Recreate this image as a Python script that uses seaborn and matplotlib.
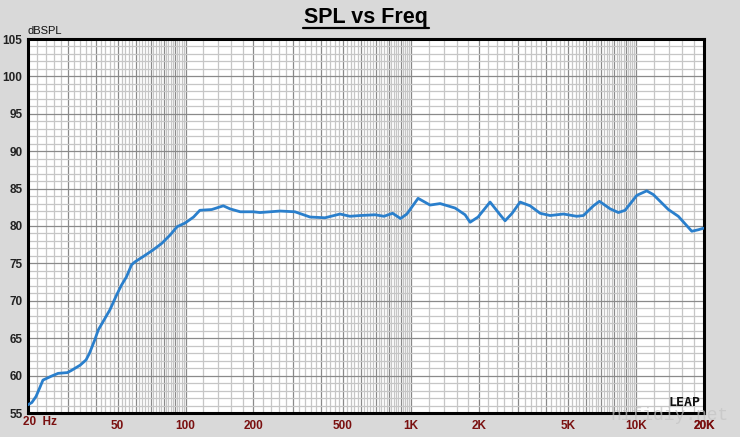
import numpy as np
import pandas as pd
import matplotlib
matplotlib.use("Agg")
import matplotlib.pyplot as plt
import matplotlib.ticker as mticker
from matplotlib.lines import Line2D
import seaborn as sns

freq = [20, 20.8, 21.7, 22.5, 23.3, 25.3, 27.2, 29.9, 31.2, 34.1, 36.2, 37.5, 39.6, 41.0,
        46.2, 49.5, 52.0, 54.7, 57.6, 59.6, 64.8, 71.8, 78.6, 85.5, 91.7, 99.6, 108.6,
        115.8, 130.7, 147.2, 157.3, 175, 200, 214, 263, 306, 357, 416, 485, 537, 595,
        694, 760, 830, 900, 960, 1077, 1217, 1349, 1572, 1741, 1832, 1987, 2247, 2490,
        2620, 2815, 3054, 3383, 3748, 4150, 4755, 5448, 5834, 6460, 6870, 7660, 8340,
        8930, 10070, 11140, 11920, 13900, 15380, 17650, 18880, 19880]
spl = [56.1, 56.4, 57.2, 58.3, 59.4, 59.9, 60.3, 60.4, 60.7, 61.4, 62.1, 63.0, 64.8, 66.1,
       68.8, 70.8, 72.1, 73.2, 74.8, 75.2, 75.9, 76.8, 77.7, 78.8, 79.9, 80.4, 81.2,
       82.1, 82.2, 82.7, 82.3, 81.9, 81.9, 81.8, 82.0, 81.9, 81.2, 81.1, 81.6, 81.3, 81.4,
       81.5, 81.3, 81.7, 81.0, 81.6, 83.7, 82.8, 83.0, 82.4, 81.5, 80.5, 81.2, 83.2, 81.5,
       80.7, 81.7, 83.2, 82.7, 81.7, 81.4, 81.6, 81.3, 81.4, 82.7, 83.3, 82.3, 81.8,
       82.1, 84.1, 84.7, 84.2, 82.2, 81.3, 79.3, 79.5, 79.7]

x_tick_vals = [50, 100, 200, 500, 1000, 2000, 5000, 10000, 20000]
x_tick_labels = ["50", "100", "200", "500", "1K", "2K", "5K", "10K", "20K"]
y_ticks = [55, 60, 65, 70, 75, 80, 85, 90, 95, 100, 105]

sns.set_style("white")
plt.rcParams["font.family"] = ["Liberation Sans", "DejaVu Sans"]

BG = "#d9d9d9"
fig = plt.figure(figsize=(7.4, 4.37), dpi=100, facecolor=BG)
ax = fig.add_axes([28 / 740, 24 / 437, 676 / 740, 374 / 437])
ax.set_facecolor("white")

df = pd.DataFrame({"freq": freq, "spl": spl})
sns.lineplot(data=df, x="freq", y="spl", ax=ax, color="#2a7fcc", lw=2.0, zorder=5)

ax.set_xscale("log")
ax.set_xlim(20, 20000)
ax.set_ylim(55, 105)

# grid positions: darker at integer multiples of each decade, lighter in between
dark = []
light = []
for base, step_l in [(10, 2), (100, 20), (1000, 200), (10000, 2000)]:
    for m in range(1, 10):
        v = m * base
        if 20 <= v <= 20000:
            dark.append(v)
    v = base
    while v < base * 10 - 1e-9:
        if 20 < v < 20000 and all(abs(v - d) > 1e-6 for d in dark):
            light.append(v)
        v += step_l
dark.append(20000)

ax.xaxis.set_major_locator(mticker.FixedLocator(dark))
ax.xaxis.set_minor_locator(mticker.FixedLocator(light))
lab = dict(zip(x_tick_vals, x_tick_labels))
ax.xaxis.set_major_formatter(mticker.FuncFormatter(lambda v, p: lab.get(int(round(v)), "")))
ax.xaxis.set_minor_formatter(mticker.NullFormatter())

ax.yaxis.set_major_locator(mticker.FixedLocator(y_ticks))
ax.yaxis.set_minor_locator(mticker.MultipleLocator(1))

ax.grid(which="minor", color="#c6c6c6", lw=0.9, zorder=0)
ax.grid(which="major", color="#8a8a8a", lw=0.9, zorder=1)
ax.set_axisbelow(True)

ax.tick_params(axis="x", which="both", length=0, pad=5, labelsize=8.5, labelcolor="#7a1010")
ax.tick_params(axis="y", which="major", length=3, width=1, color="#555555", pad=1,
               labelsize=8.5, labelcolor="#222222")
ax.tick_params(axis="y", which="minor", length=0)
for t in ax.get_xticklabels() + ax.get_yticklabels():
    t.set_fontweight("bold")

for s in ax.spines.values():
    s.set_visible(True)
    s.set_color("black")
    s.set_linewidth(2.2)

ax.set_xlabel("")
ax.set_ylabel("")

fig.text(23 / 740, 1 - 422 / 437, "20  Hz", ha="left", va="center", fontsize=8.5,
         fontweight="bold", color="#7a1010")

fig.text(28 / 740, 1 - 31 / 437, "dBSPL", ha="left", va="center", fontsize=8, color="#111111")

fig.text(366 / 740, 1 - 17 / 437, "SPL vs Freq", ha="center", va="center",
         fontsize=15.5, fontweight="bold", color="black")
fig.add_artist(Line2D([303 / 740, 429 / 740], [1 - 28 / 437, 1 - 28 / 437],
                      color="black", lw=1.6, transform=fig.transFigure))

# LEAP logo & watermark
ax.text(0.995, 0.012, "LEAP", transform=ax.transAxes, ha="right", va="bottom",
        fontsize=9.5, fontweight="heavy", color="#111111", family="DejaVu Sans Mono", zorder=6)
fig.text(0.985, 1 - 416 / 437, "hifidiy.net", ha="right", va="center", fontsize=13,
         color="#c4c4c4", alpha=0.7, family="Liberation Mono", zorder=10)

fig.savefig("out.png", dpi=100, facecolor=BG)
